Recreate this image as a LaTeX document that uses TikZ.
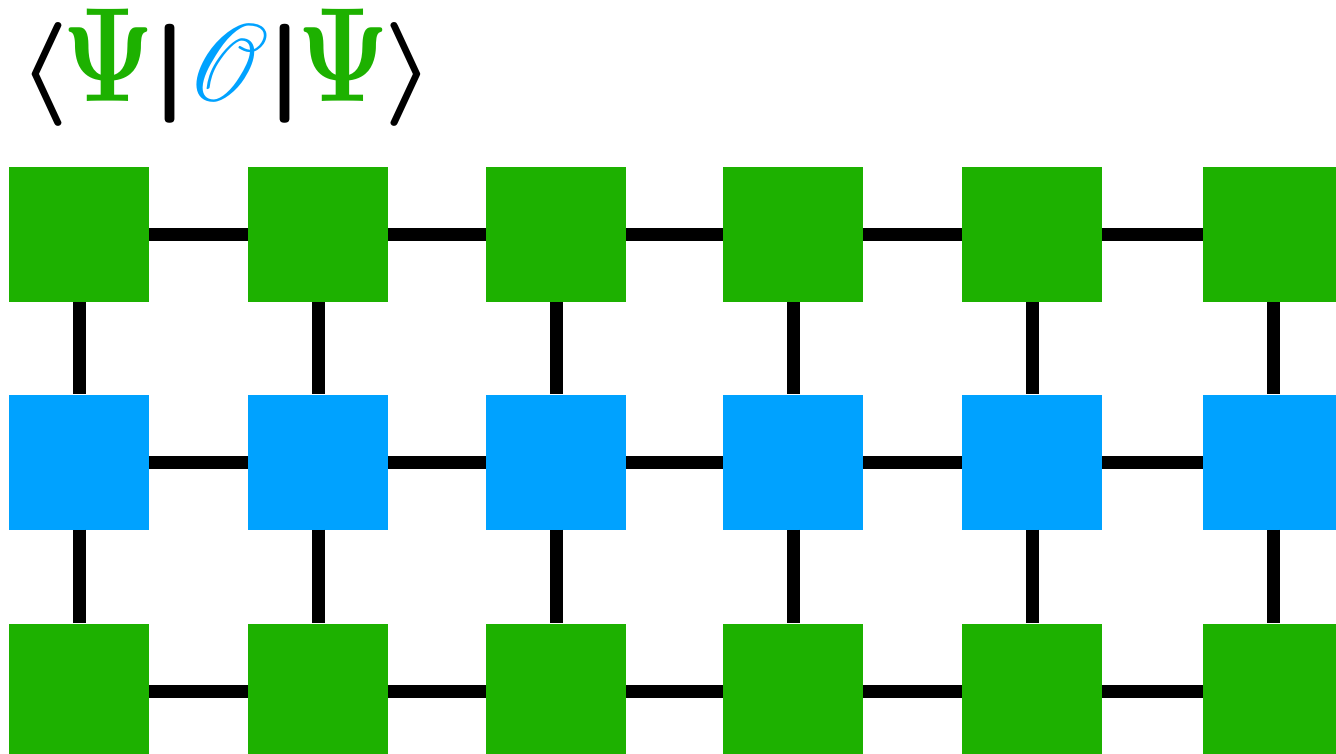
\documentclass[tikz,border=0pt]{standalone}
\usepackage{amsmath}
\usepackage{mathrsfs}
\definecolor{psigreen}{HTML}{1DB100}
\definecolor{opblue}{HTML}{00A2FF}
\newcommand{\gly}[1]{\makebox[0pt]{#1}}
\newcommand{\brl}{\raisebox{0.2pt}{\resizebox*{5.2pt}{10.4pt}{$\langle$}}}
\newcommand{\brr}{\raisebox{0.2pt}{\resizebox*{5.2pt}{10.4pt}{$\rangle$}}}
\newcommand{\psiglyph}{\resizebox{9.2pt}{9.25pt}{\color{psigreen}$\Psi$}}
\newcommand{\barglyph}{\raisebox{0.35pt}{\scalebox{1.6}[0.99]{$\vert$}}}
\newcommand{\opglyph}{\scalebox{0.9}[1]{\resizebox{!}{7.7pt}{\color{opblue}$\mathscr{O}$}}}
\newcommand{\braketformula}{\hbox{\boldmath
\hspace*{4.13pt}\gly{\brl}%
\hspace*{6.57pt}\gly{\psiglyph}%
\hspace*{6.15pt}\gly{\barglyph}%
\hspace*{5.8pt}\gly{\opglyph}%
\hspace*{5.65pt}\gly{\barglyph}%
\hspace*{5.85pt}\gly{\psiglyph}%
\hspace*{6.63pt}\gly{\brr}}}
\tikzset{
  tensor/.style={rectangle, inner sep=0pt, minimum width=140pt, minimum height=135pt, draw=none},
  psi/.style={tensor, fill=psigreen},
  op/.style={tensor, fill=opblue},
  bond/.style={line width=13pt, black},
  formula/.style={anchor=base west, inner sep=0pt, scale=10}
}
\begin{document}
\begin{tikzpicture}[x=1pt,y=-1pt]
\useasboundingbox (0,0) rectangle (1336,754);
\node[formula] (title) at (0,102) {{\braketformula}};
\foreach \i/\x in {1/79,2/318,3/556,4/793,5/1032,6/1273}{
  \node[psi] (t\i) at (\x,234.5) {};
  \node[op]  (m\i) at (\x,462) {};
  \node[psi] (b\i) at (\x,691) {};
}
\foreach \i in {1,...,6}{
  \draw[bond] (t\i.south) -- (m\i.north);
  \draw[bond] (m\i.south) -- (b\i.north);
}
\foreach \i/\j in {1/2,2/3,3/4,4/5,5/6}{
  \draw[bond] (t\i.east) -- (t\j.west);
  \draw[bond] (m\i.east) -- (m\j.west);
  \draw[bond] (b\i.east) -- (b\j.west);
}
\end{tikzpicture}
\end{document}
